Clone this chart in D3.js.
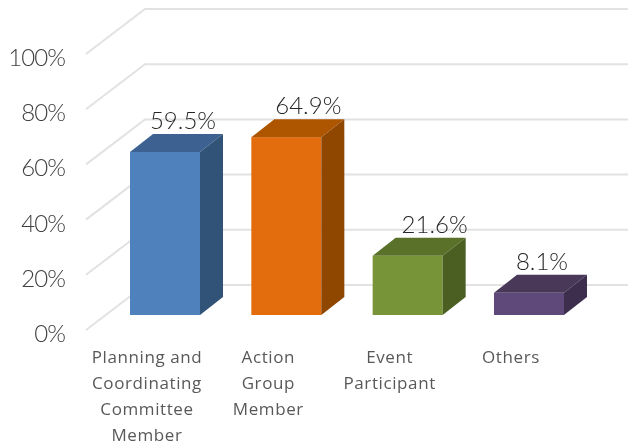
<!DOCTYPE html>
<html>
<head>
<meta charset="utf-8">
<script src="https://cdn.jsdelivr.net/npm/d3@7"></script>
<style>
    html, body { margin: 0; padding: 0; background: #fff; }
    svg { display: block; }
    .tick-label { font-family: Lato, sans-serif; font-weight: 300; font-size: 24px; letter-spacing: -0.9px; fill: #404040; }
    .value-label { font-family: Lato, sans-serif; font-weight: 300; font-size: 24px; fill: #262626; }
    .cat-label { font-family: "Open Sans", sans-serif; font-size: 17px; letter-spacing: 0.6px; fill: #595959; }
</style>
</head>
<body>
<div id="chart"></div>
<script>
var categories = ['Planning and|Coordinating|Committee|Member', 'Action|Group|Member', 'Event|Participant', 'Others'];
var values = [59.5, 64.9, 21.6, 8.1];
var valueLabels = ['59.5%', '64.9%', '21.6%', '8.1%'];
var yTicks = [0, 20, 40, 60, 80, 100];
var frontColors = ['#4f81bd', '#e36c0a', '#779537', '#5f497a'];
var topColors = ['#3c6291', '#ae5505', '#5a7129', '#483759'];
var sideColors = ['#315278', '#8f4606', '#4b5f22', '#3d2e4e'];

var width = 628,
    height = 447,
    wallDx = 59,
    wallDy = -45,
    barDx = 23,
    barDy = -18;

// nudge of the value labels, they were placed by hand in the original
var labelNudge = [-5, -1, 4, -10];

var x = d3.scaleBand()
    .domain(categories)
    .range([130, 564])
    .paddingInner(0.423)
    .paddingOuter(0);

var y = d3.scaleLinear()
    .domain([0, 100])
    .range([330, 54]);

// the bars stand a bit in front of the back wall, so they get their own scale
var yBar = d3.scaleLinear()
    .domain([0, 100])
    .range([315, 41]);

var svg = d3.select('#chart')
    .append('svg')
    .attr('width', width)
    .attr('height', height)
    .attr('viewBox', '0 0 ' + width + ' ' + height);

var soft = svg.append('defs').append('filter').attr('id', 'soft');
soft.append('feGaussianBlur').attr('stdDeviation', 0.5);

var g = svg.append('g').attr('filter', 'url(#soft)');

var line = d3.line();

// floor and back wall lines
g.append('g')
    .selectAll('path')
    .data(yTicks)
    .join('path')
    .attr('d', function(d) {
        return line([[86, y(d)], [86 + wallDx, y(d) + wallDy], [width, y(d) + wallDy]]);
    })
    .attr('fill', 'none')
    .attr('stroke', '#e2e2e2')
    .attr('stroke-width', 2);

g.append('g')
    .selectAll('text')
    .data(yTicks)
    .join('text')
    .attr('class', 'tick-label')
    .attr('x', 65)
    .attr('y', function(d) { return y(d) + 12; })
    .attr('text-anchor', 'end')
    .text(function(d) { return d + '%'; });

var bars = g.append('g')
    .selectAll('g')
    .data(values)
    .join('g');

function bx(i) { return x(categories[i]); }

// front face
bars.append('rect')
    .attr('x', function(d, i) { return bx(i); })
    .attr('y', function(d) { return yBar(d); })
    .attr('width', x.bandwidth())
    .attr('height', function(d) { return yBar(0) - yBar(d); })
    .attr('fill', function(d, i) { return frontColors[i]; });

// top face
bars.append('path')
    .attr('d', function(d, i) {
        var l = bx(i), r = l + x.bandwidth(), t = yBar(d);
        return line([[l, t], [l + barDx, t + barDy], [r + barDx, t + barDy], [r, t]]) + 'Z';
    })
    .attr('fill', function(d, i) { return topColors[i]; });

// side face
bars.append('path')
    .attr('d', function(d, i) {
        var r = bx(i) + x.bandwidth(), t = yBar(d), b = yBar(0);
        return line([[r, t], [r + barDx, t + barDy], [r + barDx, b + barDy], [r, b]]) + 'Z';
    })
    .attr('fill', function(d, i) { return sideColors[i]; });

bars.append('text')
    .attr('class', 'value-label')
    .attr('x', function(d, i) { return bx(i) + 58 + labelNudge[i]; })
    .attr('y', function(d) { return yBar(d) + barDy - 5; })
    .attr('text-anchor', 'middle')
    .text(function(d, i) { return valueLabels[i]; });

// category labels, one tspan per wrapped line
g.append('g')
    .selectAll('text')
    .data(categories)
    .join('text')
    .attr('class', 'cat-label')
    .attr('text-anchor', 'middle')
    .each(function(d) {
        var cx = x(d) + 17;
        d3.select(this)
            .selectAll('tspan')
            .data(d.split('|'))
            .join('tspan')
            .attr('x', cx)
            .attr('y', function(s, i) { return 363 + i * 26; })
            .text(function(s) { return s; });
    });
</script>
</body>
</html>
